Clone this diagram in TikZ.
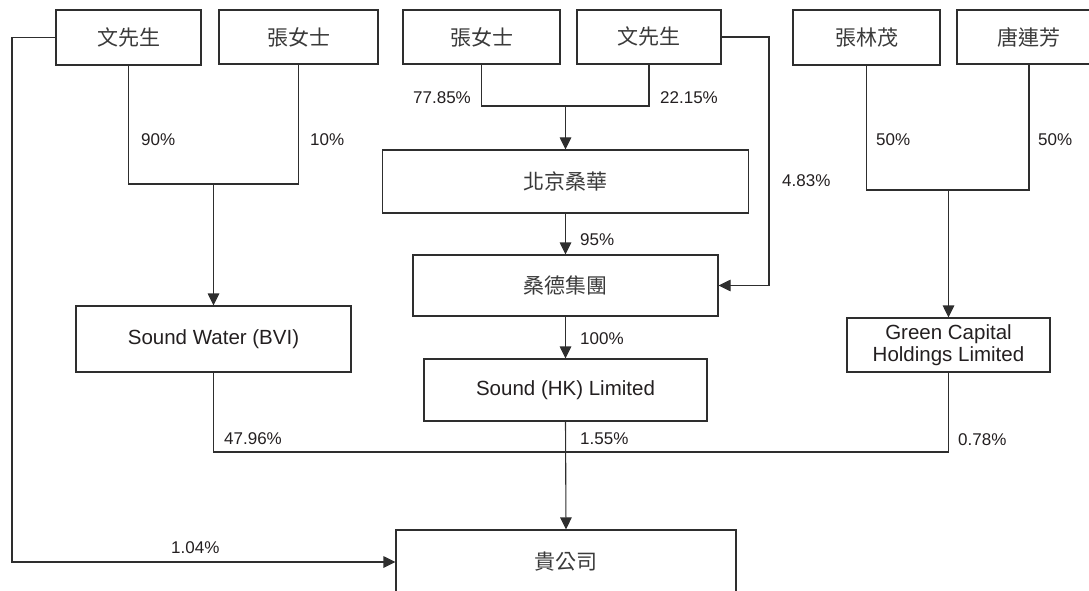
\documentclass[tikz,border=0pt]{standalone}
\usepackage{fontspec}
\setmainfont{Liberation Sans}
\newfontfamily\cjk{Noto Sans CJK TC}
\usetikzlibrary{arrows.meta,calc}
\definecolor{ink}{HTML}{231F20}
\definecolor{cjkink}{HTML}{3A3A3A}
\definecolor{wire}{HTML}{2E2E2E}
\begin{document}
\begin{tikzpicture}[x=1pt,y=-1pt,
  box/.style={draw=wire,line width=1.1pt,inner sep=0pt,text=ink,align=center},
  cjkbox/.style={box,text=cjkink,font=\cjk\fontsize{21}{24}\selectfont},
  latbox/.style={box,font=\fontsize{20.5}{22.5}\selectfont},
  lab/.style={anchor=west,inner sep=0pt,text=ink,font=\fontsize{17}{20}\selectfont},
  wireline/.style={draw=wire,line width=1.1pt},
  arr/.style={wireline,-{Triangle[length=12pt,width=11.5pt]}}]
\useasboundingbox (0,0) rectangle (1089,591);
\clip (0,0) rectangle (1089,591);
% top row
\node[cjkbox,minimum width=145,minimum height=55] (wA) at (128.5,37.5) {文先生};
\node[cjkbox,minimum width=159,minimum height=54] (zA) at (298.5,37) {張女士};
\node[cjkbox,minimum width=157,minimum height=54] (zB) at (481.5,37) {張女士};
\node[cjkbox,minimum width=144,minimum height=54] (wB) at (649,37) {文先生};
\node[cjkbox,minimum width=147,minimum height=55] (zl) at (866.5,37.5) {張林茂};
\node[cjkbox,minimum width=144,minimum height=54] (tl) at (1029,37) {唐連芳};
% middle
\node[cjkbox,minimum width=366,minimum height=63] (bj) at (565.5,181.5) {北京桑華};
\node[cjkbox,minimum width=305,minimum height=61] (sd) at (565.5,285.5) {桑德集團};
\node[latbox,minimum width=275,minimum height=66] (sw) at (213.5,339) {Sound Water (BVI)};
\node[latbox,minimum width=283,minimum height=62] (hk) at (565.5,390) {Sound (HK) Limited};
\node[latbox,minimum width=203,minimum height=54] (gc) at (948.5,345) {Green Capital\\Holdings Limited};
\node[cjkbox,minimum width=340,minimum height=64] (gs) at (566,562) {貴公司};
% helper coordinates
\coordinate (lx) at (12,0);
\coordinate (rx) at (769,0);
\coordinate (j1) at (213.5,184);
\coordinate (j2) at (565.5,106);
\coordinate (j3) at (948.5,190);
\coordinate (hb) at (0,452);
% connectors
\draw[arr] (wA.west) -- (lx |- wA.west) -- (lx |- gs.west) -- (gs.west);
\draw[wireline] (wA.south) -- (wA.south |- j1) -- (zA.south |- j1) -- (zA.south);
\draw[arr] (j1) -- (sw.north);
\draw[wireline] (zB.south) -- (zB.south |- j2) -- (wB.south |- j2) -- (wB.south);
\draw[arr] (j2) -- (bj.north);
\draw[arr] (wB.east) -- (rx |- wB.east) -- (rx |- sd.east) -- (sd.east);
\draw[arr] (bj.south) -- (sd.north);
\draw[arr] (sd.south) -- (hk.north);
\draw[wireline] (zl.south) -- (zl.south |- j3) -- (tl.south |- j3) -- (tl.south);
\draw[arr] (j3) -- (gc.north);
\draw[wireline] (sw.south) -- (sw.south |- hb) -- (gc.south |- hb) -- (gc.south);
\draw[arr] (hk.south) -- (gs.north);
% labels
\node[lab] (l90) at (141,140) {90\%};
\node[lab] (l10) at (310,140) {10\%};
\node[lab] (l7785) at (413,98) {77.85\%};
\node[lab] (l2215) at (660,98) {22.15\%};
\node[lab] (l483) at (782,181) {4.83\%};
\node[lab] (l50a) at (876,140) {50\%};
\node[lab] (l50b) at (1038,140) {50\%};
\node[lab] (l95) at (580,240) {95\%};
\node[lab] (l100) at (580,339) {100\%};
\node[lab] (l155) at (580,439) {1.55\%};
\node[lab] (l4796) at (224,439) {47.96\%};
\node[lab] (l078) at (958,440) {0.78\%};
\node[lab] (l104) at (171,548) {1.04\%};
\end{tikzpicture}
\end{document}
